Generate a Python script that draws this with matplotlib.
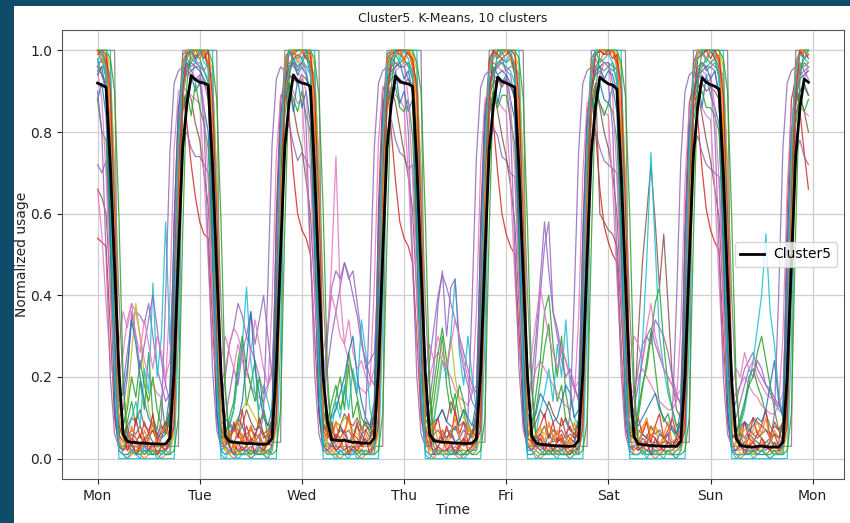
import numpy as np
import matplotlib
matplotlib.use("Agg")
import matplotlib.pyplot as plt
from matplotlib.patches import Rectangle

# ---------------- data ----------------
title = "Cluster5. K-Means, 10 clusters"
day_labels = ["Mon", "Tue", "Wed", "Thu", "Fri", "Sat", "Sun", "Mon"]
day_ticks_hours = [0, 24, 48, 72, 96, 120, 144, 168]

# cluster centroid, per-mille, one row per day (hour 0..23)
cluster5_mean = [
    [920,915,910,720,470,220, 60,42,40,39,38,38, 37,36,36,35,36,50, 220,500,760,870,938,928],
    [922,920,915,720,460,210, 55,42,40,39,38,37, 37,36,35,35,36,50, 225,505,765,872,940,925],
    [920,918,912,700,440,200, 92,46,45,44,45,42, 40,40,38,38,37,50, 220,500,760,868,937,924],
    [920,918,912,720,460,210, 60,44,42,40,40,39, 38,38,37,37,38,48, 215,495,755,866,935,924],
    [920,915,910,710,450,200, 55,38,35,34,33,32, 31,31,30,30,31,45, 210,490,750,865,935,925],
    [918,915,905,700,440,190, 55,36,34,33,32,31, 31,30,30,30,30,42, 205,485,745,862,933,922],
    [916,912,905,700,430,185, 50,32,30,29,28,30, 31,29,28,28,28,40, 200,480,740,860,930,922],
]

# member series, percent, one row per day
s01 = [
    [100,100,97,62,12,2, 1,1,2,1,1,2, 1,1,2,1,2,4, 35,82,99,100,100,100],
    [100,99,96,60,10,2, 1,2,1,1,1,1, 2,1,1,2,1,3, 30,80,98,100,100,100],
    [100,100,96,58,11,2, 2,1,1,2,1,1, 1,2,1,1,2,4, 34,84,99,100,100,99],
    [100,100,97,61,12,2, 1,1,1,2,1,1, 2,1,1,1,2,3, 32,81,98,100,100,100],
    [100,99,95,59,10,1, 1,2,1,1,1,2, 1,1,1,2,1,3, 31,80,98,100,100,100],
    [100,100,96,60,11,2, 1,1,2,1,1,1, 1,2,1,1,2,3, 30,79,97,100,100,100],
    [100,100,97,62,12,2, 1,1,1,1,2,1, 1,1,2,1,1,3, 29,78,97,100,100,100],
]
s02 = [
    [100,100,100,92,48,6, 1,0,1,2,1,0, 1,2,1,0,1,1, 8,52,93,100,100,100],
    [100,100,99,90,45,5, 2,1,0,1,3,1, 0,1,2,1,0,2, 10,55,94,100,100,100],
    [100,100,100,91,50,6, 1,2,1,0,1,2, 4,1,0,1,2,1, 9,50,92,100,100,100],
    [100,100,99,89,46,5, 1,0,2,1,1,3, 1,0,1,2,1,2, 11,54,95,100,100,100],
    [100,100,100,90,47,4, 2,1,0,1,2,1, 1,3,1,0,1,1, 8,51,93,100,100,100],
    [100,100,99,92,49,6, 1,1,2,4,1,0, 1,2,1,1,0,2, 9,53,94,100,100,100],
    [100,100,100,91,47,5, 1,0,1,2,1,1, 2,1,0,1,2,1, 10,52,93,100,100,100],
]
s03 = [
    [96,98,93,70,30,8, 5,9,14,8,19,12, 26,10,7,15,6,9, 40,74,90,95,97,99],
    [98,95,92,66,28,6, 4,8,12,22,28,13, 18,24,8,12,5,8, 38,72,88,94,98,96],
    [97,99,94,68,31,9, 6,11,15,20,12,23, 10,14,7,9,6,7, 36,70,89,96,99,97],
    [98,96,93,71,33,10, 7,14,22,30,18,11, 16,9,12,6,5,9, 42,76,91,95,97,98],
    [97,98,94,69,29,7, 6,12,19,27,33,21, 14,18,9,7,6,8, 39,73,90,96,98,97],
    [96,97,92,67,30,8, 5,10,17,24,31,22, 13,9,11,7,5,7, 37,71,88,94,96,98],
    [97,98,93,70,32,9, 6,9,13,20,22,18, 15,11,8,6,5,8, 35,70,89,95,97,96],
]
s04 = [
    [54,53,52,32,10,3, 2,3,5,4,6,3, 5,7,4,3,2,6, 58,86,90,82,72,64],
    [58,55,54,34,12,4, 3,5,7,6,4,8, 5,4,6,3,4,8, 60,88,92,84,70,60],
    [56,54,50,30,11,3, 2,4,6,5,7,4, 6,5,3,4,5,7, 62,90,93,80,68,58],
    [54,52,48,30,10,4, 3,5,4,7,5,6, 4,3,5,4,3,6, 58,86,91,82,70,60],
    [55,52,50,31,9,3, 2,4,6,4,3,5, 4,6,3,5,4,7, 55,85,90,80,66,57],
    [53,50,48,28,8,3, 2,3,5,4,6,5, 3,4,6,3,4,6, 57,87,92,83,71,61],
    [56,53,51,30,9,2, 2,4,3,5,4,6, 5,3,4,6,3,5, 60,88,93,85,75,66],
]
s05 = [
    [72,70,73,50,20,12, 18,26,34,36,35,33, 38,30,22,18,14,16, 42,66,78,80,76,74],
    [74,72,70,48,22,14, 20,28,32,38,35,30, 27,24,20,16,18,22, 44,68,79,82,77,73],
    [75,73,71,52,24,15, 22,30,36,42,48,45, 40,35,28,24,20,18, 45,70,80,83,78,75],
    [74,71,72,49,21,13, 24,32,40,45,42,38, 34,30,26,22,18,16, 43,67,77,81,79,74],
    [73,70,69,47,20,12, 20,30,44,58,46,36, 32,26,24,20,17,15, 42,66,78,80,76,73],
    [72,71,70,48,21,12, 16,22,28,30,32,28, 25,22,20,18,15,14, 40,64,76,79,75,72],
    [71,70,69,46,19,11, 14,18,22,24,26,22, 20,18,17,15,13,12, 38,62,75,78,74,72],
]
s06 = [
    [66,64,60,42,18,8, 6,8,10,9,12,8, 7,9,6,8,7,10, 35,64,85,90,88,82],
    [78,70,62,40,16,7, 6,9,7,10,8,12, 9,7,8,6,7,9, 38,66,88,92,86,80],
    [76,68,60,41,17,8, 7,6,9,8,11,9, 8,10,7,9,8,11, 36,65,86,91,87,81],
    [75,69,61,40,15,6, 5,8,10,12,9,14, 11,8,9,7,6,8, 34,62,84,90,85,79],
    [74,67,58,38,14,6, 7,9,12,10,14,11, 9,8,10,7,6,9, 37,64,86,91,86,80],
    [76,70,60,40,16,7, 8,30,48,60,72,58, 42,55,38,20,12,10, 36,63,85,90,84,78],
    [73,66,59,39,15,6, 5,7,9,8,10,9, 8,7,6,8,7,9, 35,62,84,89,85,80],
]
s07 = [
    [66,55,38,24,18,20, 26,34,38,36,30,24, 20,18,16,15,18,40, 76,90,91,90,89,88],
    [87,70,48,28,20,18, 22,28,32,30,26,22, 18,16,15,14,17,38, 74,89,90,91,90,87],
    [88,72,50,30,22,20, 30,48,74,40,28,24, 20,18,17,16,18,42, 78,91,92,90,89,88],
    [86,70,46,27,19,17, 20,24,26,24,22,20, 17,15,14,13,16,36, 72,88,90,89,88,86],
    [85,68,45,26,18,16, 18,22,24,22,20,18, 16,14,13,12,15,34, 70,87,89,88,87,85],
    [84,67,44,25,17,15, 17,20,22,20,18,16, 14,13,12,12,14,32, 68,86,88,87,86,84],
    [83,66,43,24,16,14, 16,18,20,18,16,15, 13,12,11,11,13,30, 66,85,87,86,85,84],
]
s08 = [
    [100,100,100,100,100,3, 3,3,3,3,3,3, 3,3,3,3,3,3, 3,3,100,100,100,100],
    [100,100,100,100,100,4, 4,4,4,4,4,4, 4,4,4,4,4,4, 4,4,100,100,100,100],
    [100,100,100,100,100,3, 3,3,3,3,3,3, 3,3,3,3,3,3, 3,3,100,100,100,100],
    [100,100,100,100,100,4, 4,4,4,4,4,4, 4,4,4,4,4,4, 4,4,100,100,100,100],
    [100,100,100,100,100,3, 3,3,3,3,3,3, 3,3,3,3,3,3, 3,3,100,100,100,100],
    [100,100,100,100,100,4, 4,4,4,4,4,4, 4,4,4,4,4,4, 4,4,100,100,100,100],
    [100,100,100,100,100,3, 3,3,3,3,3,3, 3,3,3,3,3,3, 3,3,100,100,100,100],
]
s09 = [
    [100,100,98,80,35,6, 8,14,26,38,30,20, 12,8,5,4,3,3, 20,66,96,100,100,100],
    [100,99,97,78,32,5, 4,6,8,10,12,14, 12,10,8,6,4,3, 22,68,97,100,100,100],
    [100,100,98,79,34,6, 5,7,9,8,10,9, 7,6,5,4,3,3, 21,67,96,100,100,99],
    [100,100,97,81,36,7, 6,10,18,26,22,30, 20,14,10,8,5,3, 19,65,95,100,100,100],
    [100,99,96,77,31,5, 4,5,7,6,8,7, 6,5,4,4,3,3, 20,66,96,100,100,100],
    [100,100,98,80,33,6, 5,6,8,9,7,8, 6,5,4,3,3,2, 18,64,95,100,100,100],
    [100,100,97,79,34,6, 5,6,7,8,6,7, 5,4,4,3,3,2, 19,65,95,100,100,100],
]
s10 = [
    [96,98,94,72,30,4, 2,6,10,14,8,22, 16,43,20,30,58,28, 50,78,92,96,98,97],
    [97,95,93,70,28,3, 3,8,12,20,28,42, 24,16,12,18,14,10, 48,76,91,95,97,96],
    [98,96,94,71,29,4, 5,7,14,10,18,12, 22,16,34,26,12,8, 46,75,90,94,96,98],
    [97,97,93,73,31,4, 4,9,16,24,20,30, 44,26,18,30,20,12, 49,77,92,95,97,97],
    [96,95,92,70,27,3, 3,6,12,16,22,14, 28,20,34,18,10,8, 47,76,91,94,96,97],
    [97,96,93,72,30,4, 6,12,28,48,75,52, 30,22,16,12,8,6, 45,74,90,95,97,96],
    [96,97,94,71,29,3, 4,8,12,18,24,32, 40,55,36,28,16,10, 50,78,92,96,98,97],
]
s11 = [
    [88,92,84,54,14,3, 2,4,6,5,3,4, 6,4,3,5,6,12, 48,82,90,86,94,90],
    [92,86,80,52,12,2, 3,5,4,6,8,5, 4,6,5,3,4,10, 46,80,88,92,85,93],
    [86,90,82,50,13,3, 4,3,5,7,6,4, 5,3,6,4,5,11, 47,81,92,88,95,87],
    [90,85,88,55,15,3, 3,5,4,6,5,7, 4,5,3,4,6,12, 49,83,91,95,87,92],
    [94,88,83,53,13,2, 2,4,5,3,6,4, 5,4,6,5,4,10, 45,79,89,84,92,88],
    [87,91,85,52,14,3, 3,4,6,5,4,3, 6,5,4,3,5,9, 44,78,88,93,86,94],
    [89,86,82,51,12,2, 2,3,4,6,5,4, 3,4,5,3,4,9, 43,77,87,90,92,89],
]
s12 = [
    [100,97,99,86,40,4, 2,3,1,4,2,5, 3,2,6,3,2,4, 14,60,97,100,98,100],
    [98,100,97,84,38,5, 3,1,4,2,6,3, 2,5,3,1,4,3, 16,62,98,99,100,97],
    [100,98,100,85,42,6, 4,2,3,5,2,4, 6,3,2,4,3,4, 15,61,96,100,99,100],
    [97,100,98,87,41,5, 2,4,3,2,5,3, 4,2,5,3,2,4, 13,59,97,98,100,99],
    [100,99,97,83,37,4, 3,2,5,3,2,6, 3,4,2,5,3,3, 15,60,96,100,97,100],
    [99,100,98,85,39,5, 5,3,2,6,4,3, 2,5,3,2,4,3, 14,58,95,99,100,98],
    [100,98,99,86,40,4, 3,2,4,3,5,2, 4,3,2,4,3,3, 13,57,95,100,98,100],
]
s13 = [
    [88,80,78,55,22,6, 8,12,20,15,24,18, 14,20,12,8,6,10, 44,72,86,90,84,92],
    [86,82,76,52,20,5, 6,10,14,24,30,22, 18,14,20,12,8,9, 42,70,84,92,88,85],
    [90,84,80,56,23,7, 9,14,18,12,16,26, 20,15,10,8,7,11, 45,73,87,89,91,86],
    [85,88,79,54,21,6, 10,18,26,32,24,16, 12,18,14,9,6,10, 43,71,85,90,86,89],
    [89,83,77,53,20,5, 8,16,24,36,40,28, 20,30,16,10,7,9, 41,69,84,91,87,84],
    [87,85,78,55,22,6, 7,12,18,22,30,38, 42,28,18,12,8,9, 40,68,83,88,90,86],
    [86,84,80,54,21,5, 6,10,14,18,20,26, 30,24,18,12,7,8, 39,67,82,89,85,88],
]
s14 = [
    [100,99,97,76,32,6, 4,8,3,10,5,9, 6,11,4,7,9,5, 22,70,97,99,100,98],
    [99,100,96,74,30,5, 6,3,9,5,12,4, 8,5,10,6,4,7, 24,72,96,100,99,100],
    [100,98,97,75,31,7, 5,9,4,8,6,11, 5,9,3,7,8,6, 23,71,98,99,100,99],
    [98,100,96,77,33,6, 3,7,10,4,8,5, 12,6,9,4,7,5, 21,69,97,100,98,100],
    [100,99,95,73,29,5, 4,6,8,11,5,9, 4,10,6,8,5,6, 22,70,96,99,100,99],
    [99,100,97,75,31,6, 5,10,6,9,4,8, 11,5,7,10,6,5, 20,68,95,100,99,100],
    [100,98,96,74,30,5, 6,4,9,5,10,6, 8,12,5,9,7,4, 21,69,96,99,100,98],
]
s15 = [
    [98,94,90,64,26,10, 12,20,36,30,22,28, 34,40,32,24,18,14, 40,80,95,98,96,97],
    [96,92,88,62,24,8, 10,16,22,18,26,30, 36,28,34,40,30,20, 42,82,96,97,98,95],
    [97,95,89,63,25,12, 30,42,46,44,48,44, 46,38,30,22,24,26, 44,81,94,98,97,96],
    [96,93,91,65,27,10, 14,22,38,46,30,42, 44,28,22,18,14,12, 41,79,95,97,96,98],
    [95,94,88,62,24,9, 12,26,40,52,58,36, 30,24,20,22,18,14, 40,80,94,98,96,97],
    [97,92,90,64,26,10, 12,18,24,30,28,34, 32,30,26,20,16,13, 39,78,93,96,97,95],
    [96,95,89,63,25,9, 10,14,18,22,20,24, 22,18,16,14,12,11, 38,77,92,97,95,96],
]
s16 = [
    [96,94,92,66,28,8, 6,5,7,6,8,5, 6,7,5,6,8,12, 46,78,92,95,94,93],
    [93,92,90,62,26,7, 5,6,8,7,5,6, 7,6,8,5,6,10, 44,76,90,94,93,92],
    [94,93,91,64,27,8, 6,7,5,8,6,7, 5,8,6,7,5,11, 45,77,91,93,94,92],
    [92,93,90,63,25,7, 5,6,7,5,7,6, 8,5,7,6,6,10, 43,75,89,92,93,91],
    [93,91,89,61,24,6, 6,5,6,8,5,7, 6,7,5,6,5,9, 42,74,88,92,60,58],
    [56,55,52,36,18,6, 5,7,6,5,8,6, 7,5,6,8,6,9, 41,73,88,91,92,90],
    [91,90,88,60,24,6, 5,6,5,7,6,5, 6,7,5,6,5,9, 40,72,87,90,91,89],
]
s17 = [
    [95,88,70,40,22,28, 36,32,38,30,26,34, 28,22,30,26,20,24, 52,84,94,96,92,98],
    [96,86,68,38,20,24, 30,26,22,28,24,20, 26,34,28,22,18,20, 50,82,92,95,97,94],
    [94,90,72,42,24,26, 32,40,36,30,28,34, 26,22,24,20,18,22, 51,83,93,97,95,96],
    [97,88,69,39,21,22, 28,24,30,26,22,28, 34,30,24,20,16,18, 49,81,91,94,96,95],
    [95,87,71,41,23,20, 26,34,42,36,30,26, 22,28,24,20,17,19, 48,80,90,96,94,97],
    [96,89,70,40,22,24, 30,28,24,32,38,30, 26,22,20,18,15,17, 47,79,89,93,95,94],
    [94,86,68,38,20,18, 22,20,26,22,24,20, 18,16,15,14,13,16, 46,78,88,95,93,96],
]
s18 = [
    [95,96,96,94,70,40, 18,6,3,2,2,2, 2,2,2,2,2,3, 10,45,88,96,97,96],
    [96,95,97,93,68,38, 16,5,3,2,2,2, 2,2,2,2,2,3, 12,48,90,97,96,95],
    [97,96,96,94,71,41, 17,6,3,2,2,3, 2,2,2,2,2,3, 11,46,89,96,97,96],
    [96,97,95,93,69,39, 16,5,2,2,2,2, 3,2,2,2,2,3, 10,44,87,95,96,97],
    [95,96,96,94,70,40, 17,6,3,2,2,2, 2,2,3,2,2,3, 11,47,89,96,96,95],
    [96,95,96,93,68,37, 15,5,3,2,2,2, 2,2,2,2,3,3, 10,45,88,95,97,96],
    [97,96,95,94,70,39, 16,6,3,2,2,2, 2,3,2,2,2,3, 12,46,89,96,96,97],
]
s19 = [
    [100,100,100,96,70,20, 3,2,1,2,3,1, 2,1,3,2,1,2, 6,40,88,100,100,100],
    [100,100,99,95,68,18, 2,3,2,1,2,3, 1,2,2,3,1,2, 7,42,90,100,100,100],
    [100,100,100,96,71,21, 3,1,2,3,2,1, 3,2,1,2,2,2, 6,41,89,100,100,100],
    [100,100,100,95,69,19, 2,2,3,1,2,2, 1,3,2,1,3,2, 5,39,87,100,100,100],
    [100,100,99,96,70,20, 3,2,1,2,1,3, 2,1,2,3,1,2, 6,40,88,100,100,100],
    [100,100,100,95,68,18, 2,3,2,2,3,1, 2,2,1,2,2,2, 5,38,86,100,100,100],
    [100,100,100,96,70,19, 3,1,2,3,1,2, 3,1,2,2,1,2, 6,40,88,100,100,100],
]
s20 = [
    [100,100,100,100,40,0, 0,0,0,0,0,0, 0,0,0,0,0,0, 0,30,95,100,100,100],
    [100,100,100,100,42,0, 0,0,0,0,0,0, 0,0,0,0,0,0, 0,28,94,100,100,100],
    [100,100,100,100,38,0, 0,0,0,0,0,0, 0,0,0,0,0,0, 0,32,96,100,100,100],
    [100,100,100,100,41,0, 0,0,0,0,0,0, 0,0,0,0,0,0, 0,29,95,100,100,100],
    [100,100,100,100,39,0, 0,0,0,0,0,0, 0,0,0,0,0,0, 0,31,95,100,100,100],
    [100,100,100,100,40,0, 0,0,0,0,0,0, 0,0,0,0,0,0, 0,30,94,100,100,100],
    [100,100,100,100,42,0, 0,0,0,0,0,0, 0,0,0,0,0,0, 0,28,95,100,100,100],
]
s21 = [
    [94,96,90,60,28,14, 16,22,34,28,20,14, 10,8,6,5,8,16, 58,86,94,97,95,96],
    [95,93,91,58,26,12, 10,8,7,9,14,24, 36,22,16,10,8,12, 56,84,92,96,97,94],
    [96,94,89,59,27,12, 8,10,12,16,20,26, 30,20,14,10,8,14, 57,85,93,95,96,97],
    [93,95,90,61,29,12, 8,9,10,12,9,8, 7,9,12,10,8,14, 55,83,91,96,94,95],
    [94,92,88,57,25,11, 9,11,16,14,12,9, 10,14,18,16,10,12, 54,82,90,95,96,93],
    [95,94,90,60,28,12, 9,8,10,12,14,16, 12,10,8,7,6,12, 53,81,89,94,95,96],
    [93,95,89,58,26,11, 7,8,9,7,8,10, 9,12,18,24,14,10, 52,80,88,93,94,95],
]
s22 = [
    [100,100,100,98,90,60, 20,4,2,1,2,1, 2,1,1,2,1,1, 2,10,55,92,100,100],
    [100,100,100,97,88,58, 18,3,1,2,1,2, 1,2,1,1,2,1, 2,12,57,93,100,100],
    [100,100,100,98,89,61, 21,4,2,1,1,2, 2,1,2,1,1,1, 2,11,54,91,100,100],
    [100,100,100,97,90,59, 19,3,1,2,2,1, 1,2,1,2,1,1, 2,10,56,92,100,100],
    [100,100,100,98,88,57, 18,4,2,1,2,1, 2,1,1,1,2,1, 2,9,53,90,100,100],
    [100,100,100,97,89,60, 20,3,1,2,1,2, 1,1,2,1,1,1, 2,10,55,92,100,100],
    [100,100,100,98,90,58, 19,4,2,1,2,1, 2,1,1,2,1,1, 2,11,56,93,100,100],
]
s23 = [
    [90,80,50,20,6,3, 2,3,2,3,2,3, 2,3,4,10,40,75, 92,95,96,94,95,93],
    [94,82,52,22,7,3, 3,2,3,2,3,2, 3,2,4,12,42,77, 93,96,95,93,94,92],
    [93,81,51,21,6,2, 2,3,2,3,2,3, 2,3,5,11,41,76, 92,95,96,95,94,93],
    [92,80,50,20,6,3, 3,2,3,2,2,3, 2,3,4,10,39,74, 91,94,95,94,93,92],
    [93,82,52,22,7,3, 2,3,2,3,3,2, 3,2,4,11,40,75, 92,95,96,94,95,93],
    [92,81,50,21,6,2, 3,2,3,2,3,2, 2,3,4,10,38,73, 90,94,95,93,94,92],
    [93,80,51,20,6,3, 2,3,2,3,2,3, 3,2,4,11,40,76, 92,95,96,94,95,93],
]
s24 = [
    [100,98,96,80,40,10, 6,3,8,5,2,7, 4,9,3,6,8,4, 25,75,97,100,99,100],
    [99,100,97,78,38,9, 4,7,2,9,5,3, 8,4,6,2,7,5, 24,74,96,99,100,98],
    [100,99,98,81,41,11, 7,4,9,3,6,10, 5,3,8,6,4,7, 26,76,98,100,99,100],
    [98,100,96,79,39,8, 5,9,4,7,3,6, 10,5,3,8,6,4, 23,73,96,100,98,99],
    [100,98,97,80,40,10, 3,6,8,4,9,5, 7,4,6,3,9,5, 25,75,97,99,100,100],
    [99,100,96,77,37,9, 6,4,7,10,5,8, 3,6,9,4,5,7, 22,72,95,100,99,98],
    [100,99,97,80,40,10, 4,8,5,3,7,9, 6,10,4,7,5,3, 24,74,96,100,100,99],
]
s25 = [
    [99,100,99,90,62,22, 6,2,4,1,3,5, 2,4,1,3,2,4, 8,48,90,99,100,98],
    [100,98,100,88,60,20, 5,3,1,4,2,3, 5,1,3,2,4,3, 9,50,91,100,98,99],
    [98,100,99,89,63,23, 6,4,2,3,5,1, 3,2,4,5,1,3, 8,47,89,98,100,100],
    [100,99,98,91,61,21, 5,1,3,5,2,4, 1,3,5,2,3,4, 7,46,88,100,99,98],
    [99,100,99,88,59,19, 4,3,5,2,4,2, 4,5,2,1,3,2, 8,49,90,99,100,99],
    [100,98,99,90,62,22, 6,2,3,4,1,5, 3,2,4,3,5,3, 7,45,88,98,99,100],
    [98,100,98,89,60,20, 5,4,1,3,4,2, 5,3,2,4,2,3, 8,47,89,100,98,99],
]
s26 = [
    [97,100,95,68,20,2, 1,0,2,1,0,3, 1,2,0,1,2,1, 28,77,95,98,100,97],
    [100,97,96,66,18,1, 0,2,1,0,1,2, 0,1,3,1,0,2, 27,76,94,100,97,99],
    [98,100,95,67,19,2, 1,1,0,2,1,0, 2,0,1,2,1,1, 29,78,96,97,100,98],
    [100,98,94,65,17,1, 0,2,1,1,0,2, 1,1,0,1,2,2, 26,75,94,99,98,100],
    [97,100,96,68,20,2, 2,0,1,2,1,1, 0,2,1,0,1,1, 28,77,95,100,97,98],
    [99,97,95,66,18,1, 1,1,2,0,2,1, 1,0,2,1,0,2, 27,76,94,98,100,97],
    [100,99,94,67,19,2, 0,1,1,2,0,1, 2,1,0,1,1,1, 28,77,95,99,98,100],
]

members = [s01, s02, s03, s04, s05, s06, s07, s08, s09, s10, s11, s12, s13,
           s14, s15, s16, s17, s18, s19, s20, s21, s22, s23, s24, s25, s26]
member_colors = ["tab:blue", "tab:orange", "tab:green", "tab:red", "tab:purple",
                 "tab:brown", "tab:pink", "tab:gray", "tab:olive", "tab:cyan",
                 "tab:blue", "tab:orange", "tab:green", "tab:red", "tab:purple",
                 "tab:brown", "tab:pink", "tab:gray", "tab:olive", "tab:cyan",
                 "tab:blue", "tab:green", "tab:purple", "tab:orange", "tab:red",
                 "tab:cyan"]

# ---------------- figure ----------------
W, H = 850, 523
fig = plt.figure(figsize=(W / 100, H / 100), dpi=100)
fig.patch.set_facecolor("#0f4c6c")

# white card behind the chart (slide background shows around it)
bg = fig.add_axes([0, 0, 1, 1], zorder=-10)
bg.set_axis_off()
bg.set_xlim(0, 1)
bg.set_ylim(0, 1)
bg.add_patch(Rectangle((14 / W, 0), 1 - 14 / W, (H - 6) / H,
                       facecolor="white", edgecolor="none"))

ax = fig.add_axes([62 / W, (H - 479) / H, (844 - 62) / W, (479 - 30) / H], zorder=1)
ax.set_facecolor("white")

for s, c in zip(members, member_colors):
    y = np.concatenate([np.asarray(r, dtype=float) for r in s]) / 100.0
    ax.plot(np.arange(len(y)), y, color=c, lw=0.9, alpha=0.85)

ym = np.concatenate([np.asarray(r, dtype=float) for r in cluster5_mean]) / 1000.0
ax.plot(np.arange(len(ym)), ym, color="black", lw=2.0, label="Cluster5", zorder=5)

ax.set_xlim(-0.05 * 167, 167 * 1.05)
ax.set_ylim(-0.05, 1.05)
ax.set_xticks(day_ticks_hours)
ax.set_xticklabels(day_labels)
ax.set_yticks([0.0, 0.2, 0.4, 0.6, 0.8, 1.0])
ax.tick_params(labelsize=10, colors="#222222")
ax.grid(True, color="#cfcfcf", lw=0.9)
ax.set_axisbelow(True)
for sp in ax.spines.values():
    sp.set_color("#555555")

ax.set_title(title, fontsize=9, color="#222222")
ax.set_xlabel("Time", fontsize=10, color="#222222", labelpad=0)
ax.set_ylabel("Normalized usage", fontsize=10, color="#222222", labelpad=1)
ax.legend(loc="center right", fontsize=10, handlelength=1.7, handletextpad=0.7)

fig.savefig("out.png", dpi=100, facecolor=fig.get_facecolor())
